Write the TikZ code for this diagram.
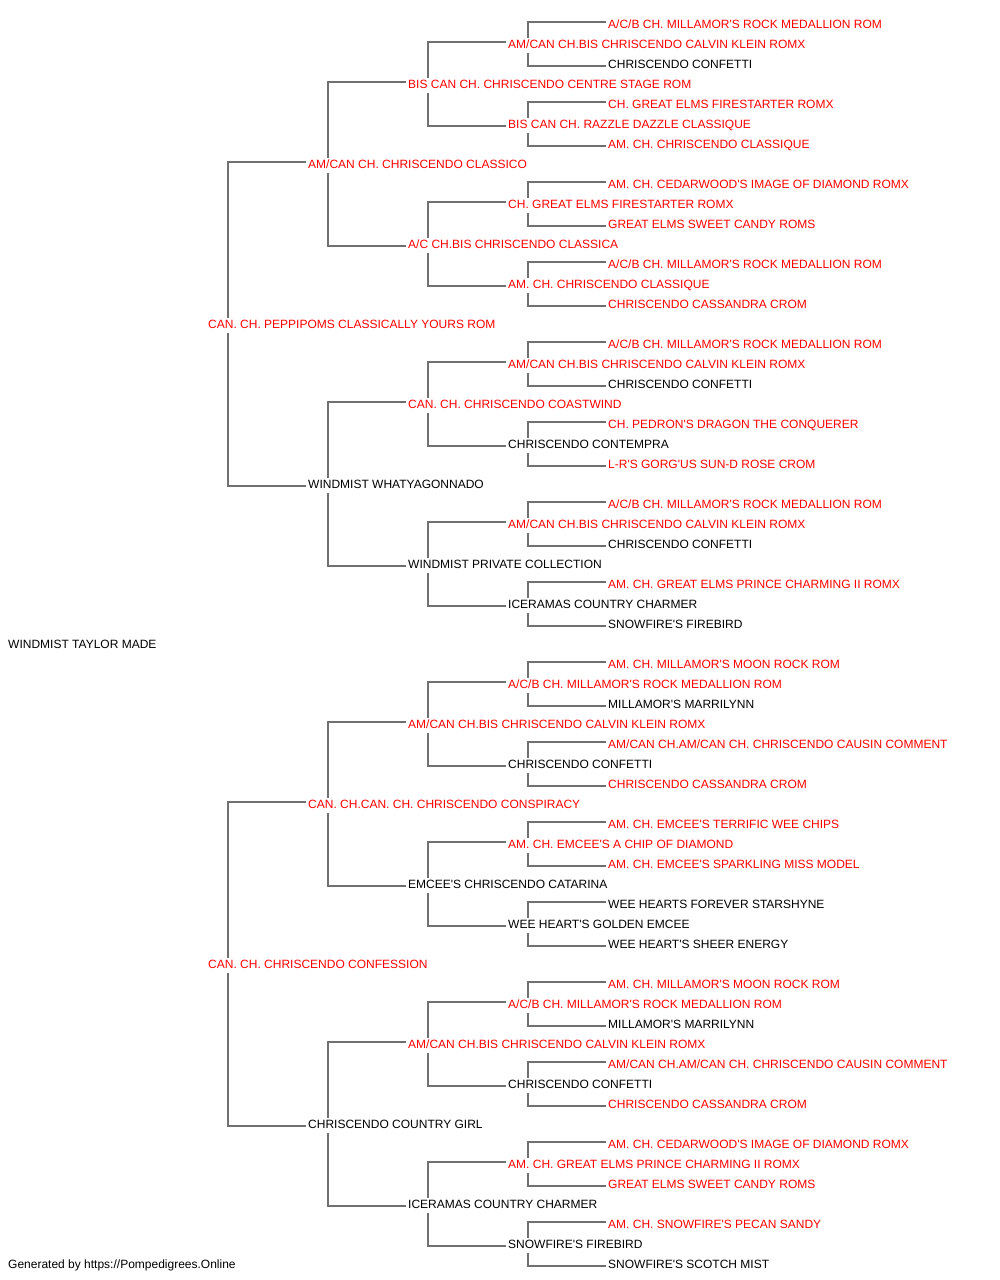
\documentclass[tikz,border=0pt]{standalone}
\usepackage{fontspec}
\setmainfont{Liberation Sans}[Ligatures=TeXOff]
\pgfdeclarelayer{bg}
\pgfsetlayers{bg,main}
\definecolor{pedred}{RGB}{255,0,0}
\definecolor{pedblack}{RGB}{0,0,0}
\definecolor{pedline}{RGB}{112,112,112}
\tikzset{
  ped/.style={fill=white, inner xsep=2.5pt, inner ysep=1.5pt, text height=9pt, text depth=2.5pt,
    font=\fontsize{12pt}{14pt}\selectfont, anchor=base west},
  conn/.style={draw=pedline, line width=1.5pt},
}
\newcommand\PN[5]{\node[ped,text=#4] (#1) at (#2-2.5, 28.5+20*#3) {#5};}
\begin{document}
\begin{tikzpicture}[x=1pt,y=-1pt]
\useasboundingbox (0,0) rectangle (1000,1280);
\PN{r0}{608}{0}{pedred}{A/C/B CH. MILLAMOR'S ROCK MEDALLION ROM}
\PN{r1}{508}{1}{pedred}{AM/CAN CH.BIS CHRISCENDO CALVIN KLEIN ROMX}
\PN{r2}{608}{2}{pedblack}{CHRISCENDO CONFETTI}
\PN{r3}{408}{3}{pedred}{BIS CAN CH. CHRISCENDO CENTRE STAGE ROM}
\PN{r4}{608}{4}{pedred}{CH. GREAT ELMS FIRESTARTER ROMX}
\PN{r5}{508}{5}{pedred}{BIS CAN CH. RAZZLE DAZZLE CLASSIQUE}
\PN{r6}{608}{6}{pedred}{AM. CH. CHRISCENDO CLASSIQUE}
\PN{r7}{308}{7}{pedred}{AM/CAN CH. CHRISCENDO CLASSICO}
\PN{r8}{608}{8}{pedred}{AM. CH. CEDARWOOD'S IMAGE OF DIAMOND ROMX}
\PN{r9}{508}{9}{pedred}{CH. GREAT ELMS FIRESTARTER ROMX}
\PN{r10}{608}{10}{pedred}{GREAT ELMS SWEET CANDY ROMS}
\PN{r11}{408}{11}{pedred}{A/C CH.BIS CHRISCENDO CLASSICA}
\PN{r12}{608}{12}{pedred}{A/C/B CH. MILLAMOR'S ROCK MEDALLION ROM}
\PN{r13}{508}{13}{pedred}{AM. CH. CHRISCENDO CLASSIQUE}
\PN{r14}{608}{14}{pedred}{CHRISCENDO CASSANDRA CROM}
\PN{r15}{208}{15}{pedred}{CAN. CH. PEPPIPOMS CLASSICALLY YOURS ROM}
\PN{r16}{608}{16}{pedred}{A/C/B CH. MILLAMOR'S ROCK MEDALLION ROM}
\PN{r17}{508}{17}{pedred}{AM/CAN CH.BIS CHRISCENDO CALVIN KLEIN ROMX}
\PN{r18}{608}{18}{pedblack}{CHRISCENDO CONFETTI}
\PN{r19}{408}{19}{pedred}{CAN. CH. CHRISCENDO COASTWIND}
\PN{r20}{608}{20}{pedred}{CH. PEDRON'S DRAGON THE CONQUERER}
\PN{r21}{508}{21}{pedblack}{CHRISCENDO CONTEMPRA}
\PN{r22}{608}{22}{pedred}{L-R'S GORG'US SUN-D ROSE CROM}
\PN{r23}{308}{23}{pedblack}{WINDMIST WHATYAGONNADO}
\PN{r24}{608}{24}{pedred}{A/C/B CH. MILLAMOR'S ROCK MEDALLION ROM}
\PN{r25}{508}{25}{pedred}{AM/CAN CH.BIS CHRISCENDO CALVIN KLEIN ROMX}
\PN{r26}{608}{26}{pedblack}{CHRISCENDO CONFETTI}
\PN{r27}{408}{27}{pedblack}{WINDMIST PRIVATE COLLECTION}
\PN{r28}{608}{28}{pedred}{AM. CH. GREAT ELMS PRINCE CHARMING II ROMX}
\PN{r29}{508}{29}{pedblack}{ICERAMAS COUNTRY CHARMER}
\PN{r30}{608}{30}{pedblack}{SNOWFIRE'S FIREBIRD}
\PN{r31}{8}{31}{pedblack}{WINDMIST TAYLOR MADE}
\PN{r32}{608}{32}{pedred}{AM. CH. MILLAMOR'S MOON ROCK ROM}
\PN{r33}{508}{33}{pedred}{A/C/B CH. MILLAMOR'S ROCK MEDALLION ROM}
\PN{r34}{608}{34}{pedblack}{MILLAMOR'S MARRILYNN}
\PN{r35}{408}{35}{pedred}{AM/CAN CH.BIS CHRISCENDO CALVIN KLEIN ROMX}
\PN{r36}{608}{36}{pedred}{AM/CAN CH.AM/CAN CH. CHRISCENDO CAUSIN COMMENT}
\PN{r37}{508}{37}{pedblack}{CHRISCENDO CONFETTI}
\PN{r38}{608}{38}{pedred}{CHRISCENDO CASSANDRA CROM}
\PN{r39}{308}{39}{pedred}{CAN. CH.CAN. CH. CHRISCENDO CONSPIRACY}
\PN{r40}{608}{40}{pedred}{AM. CH. EMCEE'S TERRIFIC WEE CHIPS}
\PN{r41}{508}{41}{pedred}{AM. CH. EMCEE'S A CHIP OF DIAMOND}
\PN{r42}{608}{42}{pedred}{AM. CH. EMCEE'S SPARKLING MISS MODEL}
\PN{r43}{408}{43}{pedblack}{EMCEE'S CHRISCENDO CATARINA}
\PN{r44}{608}{44}{pedblack}{WEE HEARTS FOREVER STARSHYNE}
\PN{r45}{508}{45}{pedblack}{WEE HEART'S GOLDEN EMCEE}
\PN{r46}{608}{46}{pedblack}{WEE HEART'S SHEER ENERGY}
\PN{r47}{208}{47}{pedred}{CAN. CH. CHRISCENDO CONFESSION}
\PN{r48}{608}{48}{pedred}{AM. CH. MILLAMOR'S MOON ROCK ROM}
\PN{r49}{508}{49}{pedred}{A/C/B CH. MILLAMOR'S ROCK MEDALLION ROM}
\PN{r50}{608}{50}{pedblack}{MILLAMOR'S MARRILYNN}
\PN{r51}{408}{51}{pedred}{AM/CAN CH.BIS CHRISCENDO CALVIN KLEIN ROMX}
\PN{r52}{608}{52}{pedred}{AM/CAN CH.AM/CAN CH. CHRISCENDO CAUSIN COMMENT}
\PN{r53}{508}{53}{pedblack}{CHRISCENDO CONFETTI}
\PN{r54}{608}{54}{pedred}{CHRISCENDO CASSANDRA CROM}
\PN{r55}{308}{55}{pedblack}{CHRISCENDO COUNTRY GIRL}
\PN{r56}{608}{56}{pedred}{AM. CH. CEDARWOOD'S IMAGE OF DIAMOND ROMX}
\PN{r57}{508}{57}{pedred}{AM. CH. GREAT ELMS PRINCE CHARMING II ROMX}
\PN{r58}{608}{58}{pedred}{GREAT ELMS SWEET CANDY ROMS}
\PN{r59}{408}{59}{pedblack}{ICERAMAS COUNTRY CHARMER}
\PN{r60}{608}{60}{pedred}{AM. CH. SNOWFIRE'S PECAN SANDY}
\PN{r61}{508}{61}{pedblack}{SNOWFIRE'S FIREBIRD}
\PN{r62}{608}{62}{pedblack}{SNOWFIRE'S SCOTCH MIST}
\node[ped,text=pedblack] (footer) at (5.5, 1268.5) {Generated by https://Pompedigrees.Online};
\begin{pgfonlayer}{bg}
\foreach \p/\a/\b in {15/7/23, 47/39/55, 7/3/11, 23/19/27, 39/35/43, 55/51/59,
  3/1/5, 11/9/13, 19/17/21, 27/25/29, 35/33/37, 43/41/45, 51/49/53, 59/57/61,
  1/0/2, 5/4/6, 9/8/10, 13/12/14, 17/16/18, 21/20/22, 25/24/26, 29/28/30,
  33/32/34, 37/36/38, 41/40/42, 45/44/46, 49/48/50, 53/52/54, 57/56/58, 61/60/62}
  \draw[conn] ([yshift=3.2pt]r\a.west) -| ([xshift=22.5pt]r\p.west) |- ([yshift=-0.5pt]r\b.west);
\end{pgfonlayer}
\end{tikzpicture}
\end{document}
